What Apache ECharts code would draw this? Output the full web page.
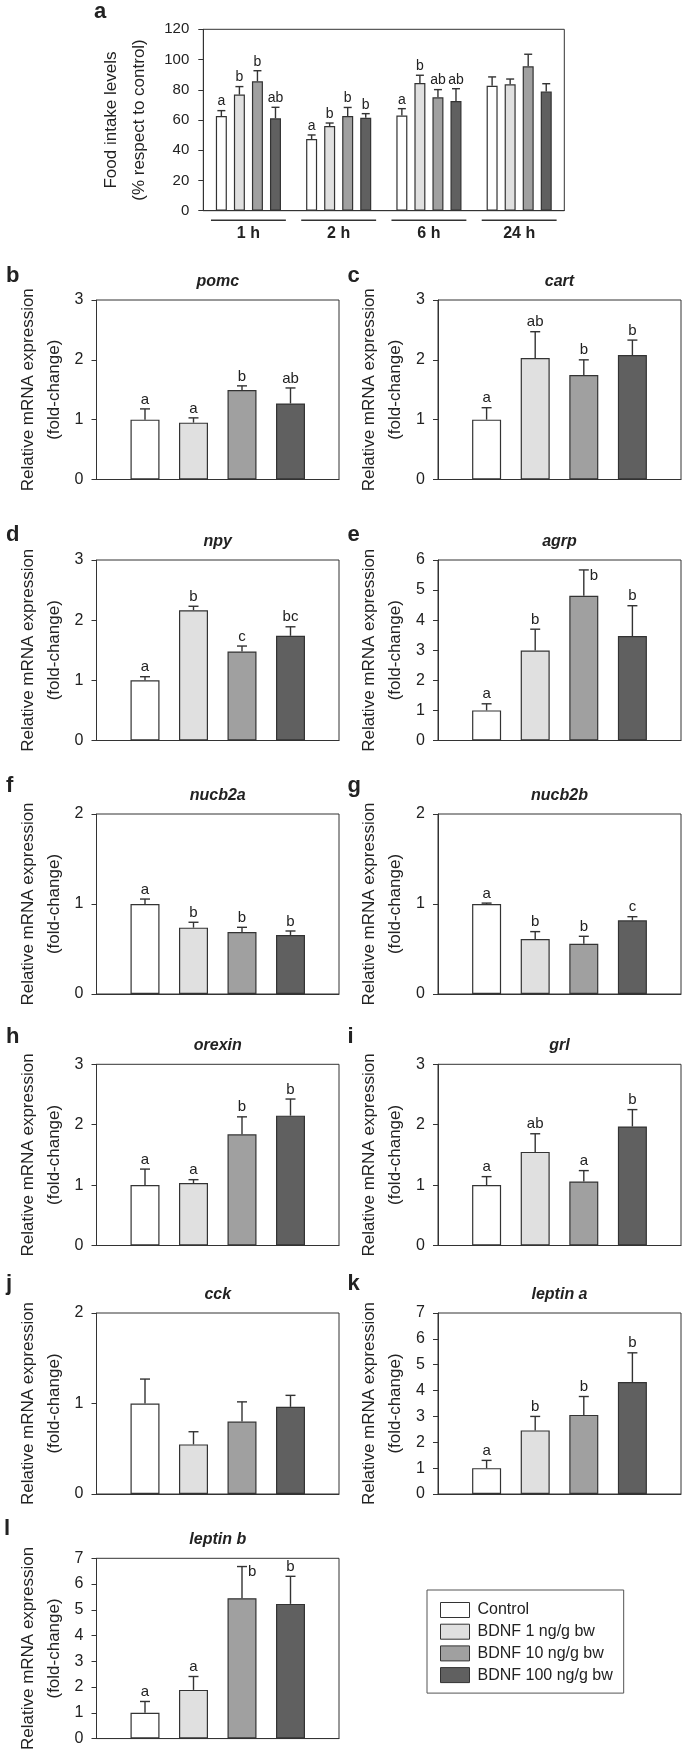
<!DOCTYPE html>
<html><head><meta charset="utf-8">
<script src="https://cdn.jsdelivr.net/npm/echarts@6/dist/echarts.min.js"></script>
<style>html,body{margin:0;padding:0;background:#fff}#c{width:685px;height:1752px}</style>
</head><body><div id="c"></div>
<script>
const FONT = '"Liberation Sans", Arial, Helvetica, sans-serif';
const groups = ['Control', 'BDNF 1 ng/g bw', 'BDNF 10 ng/g bw', 'BDNF 100 ng/g bw'];
const groupColors = ['#ffffff', '#e0e0e0', '#a0a0a0', '#606060'];

// ---- panel a: food intake (% respect to control)
const timePoints = ['1 h', '2 h', '6 h', '24 h'];
const foodControl = [62.6, 47.4, 62.9, 82.7];
const foodControlErr = [3.6, 2.7, 4.6, 5.8];
const foodControlLetters = ['a', 'a', 'a', ''];
const foodBdnf1 = [76.8, 56.0, 84.5, 83.6];
const foodBdnf1Err = [5.3, 2.0, 5.1, 3.5];
const foodBdnf1Letters = ['b', 'b', 'b', ''];
const foodBdnf10 = [85.6, 62.6, 75.0, 95.5];
const foodBdnf10Err = [7.0, 5.7, 5.1, 8.0];
const foodBdnf10Letters = ['b', 'b', 'ab', ''];
const foodBdnf100 = [61.1, 61.5, 72.6, 78.8];
const foodBdnf100Err = [7.3, 2.7, 8.1, 5.2];
const foodBdnf100Letters = ['ab', 'b', 'ab', ''];
const foodTicks = [0, 20, 40, 60, 80, 100, 120];

// ---- gene panels: relative mRNA expression (fold-change), order = groups
const pomcMean = [1.0, 0.95, 1.495, 1.27];
const pomcErr = [0.18, 0.08, 0.07, 0.26];
const pomcLetters = ['a', 'a', 'b', 'ab'];
const cartMean = [1.0, 2.03, 1.745, 2.08];
const cartErr = [0.2, 0.44, 0.255, 0.25];
const cartLetters = ['a', 'ab', 'b', 'b'];
const npyMean = [1.0, 2.166, 1.48, 1.74];
const npyErr = [0.06, 0.065, 0.09, 0.15];
const npyLetters = ['a', 'b', 'c', 'bc'];
const agrpMean = [1.0, 2.99, 4.81, 3.47];
const agrpErr = [0.22, 0.71, 0.86, 1.01];
const agrpLetters = ['a', 'b', 'b', 'b'];
const nucb2aMean = [1.0, 0.737, 0.689, 0.656];
const nucb2aErr = [0.055, 0.06, 0.052, 0.044];
const nucb2aLetters = ['a', 'b', 'b', 'b'];
const nucb2bMean = [1.0, 0.611, 0.559, 0.819];
const nucb2bErr = [0.01, 0.082, 0.082, 0.04];
const nucb2bLetters = ['a', 'b', 'b', 'c'];
const orexinMean = [1.0, 1.033, 1.84, 2.15];
const orexinErr = [0.265, 0.057, 0.29, 0.275];
const orexinLetters = ['a', 'a', 'b', 'b'];
const grlMean = [1.0, 1.55, 1.06, 1.97];
const grlErr = [0.14, 0.3, 0.18, 0.28];
const grlLetters = ['a', 'ab', 'a', 'b'];
const cckMean = [1.0, 0.548, 0.80, 0.963];
const cckErr = [0.27, 0.14, 0.218, 0.127];
const cckLetters = ['', '', '', ''];
const leptinAMean = [1.0, 2.46, 3.06, 4.33];
const leptinAErr = [0.3, 0.54, 0.71, 1.13];
const leptinALetters = ['a', 'b', 'b', 'b'];
const leptinBMean = [1.0, 1.89, 5.45, 5.23];
const leptinBErr = [0.44, 0.52, 1.23, 1.07];
const leptinBLetters = ['a', 'a', 'b', 'b'];

// ---- layout (not data)
const panels = [
  {letter: 'b', title: 'pomc', mean: pomcMean, err: pomcErr, letters: pomcLetters, yMax: 3, col: 0, row: 0},
  {letter: 'c', title: 'cart', mean: cartMean, err: cartErr, letters: cartLetters, yMax: 3, col: 1, row: 0},
  {letter: 'd', title: 'npy', mean: npyMean, err: npyErr, letters: npyLetters, yMax: 3, col: 0, row: 1},
  {letter: 'e', title: 'agrp', mean: agrpMean, err: agrpErr, letters: agrpLetters, yMax: 6, col: 1, row: 1, side: 2},
  {letter: 'f', title: 'nucb2a', mean: nucb2aMean, err: nucb2aErr, letters: nucb2aLetters, yMax: 2, col: 0, row: 2},
  {letter: 'g', title: 'nucb2b', mean: nucb2bMean, err: nucb2bErr, letters: nucb2bLetters, yMax: 2, col: 1, row: 2},
  {letter: 'h', title: 'orexin', mean: orexinMean, err: orexinErr, letters: orexinLetters, yMax: 3, col: 0, row: 3},
  {letter: 'i', title: 'grl', mean: grlMean, err: grlErr, letters: grlLetters, yMax: 3, col: 1, row: 3},
  {letter: 'j', title: 'cck', mean: cckMean, err: cckErr, letters: cckLetters, yMax: 2, col: 0, row: 4},
  {letter: 'k', title: 'leptin a', mean: leptinAMean, err: leptinAErr, letters: leptinALetters, yMax: 7, col: 1, row: 4},
  {letter: 'l', title: 'leptin b', mean: leptinBMean, err: leptinBErr, letters: leptinBLetters, yMax: 7, col: 0, row: 5, side: 2}
];
const colLeft = [96.5, 438];
const colWidth = [242.5, 243];
const rowTop = [300, 560, 814, 1064.3, 1313, 1558.3];
const rowHeight = [179.5, 180.5, 180, 181.2, 181, 180.4];
const letterBaseline = [283.3, 542.7, 794, 1045, 1292, 1536.7];
const letterLeft = [6, 347.5];

const INK = '#222';
const LINE = '#333';

const option = {
  animation: false,
  backgroundColor: '#ffffff',
  textStyle: {fontFamily: FONT},
  grid: [], xAxis: [], yAxis: [], series: [], title: []
};

function yAxisCommon(gridIndex, max, interval, fontSize, margin, name, nameGap, nameSize, nameLH) {
  return {
    type: 'value', gridIndex, min: 0, max, interval,
    axisLine: {show: true, lineStyle: {color: LINE, width: 1}},
    axisTick: {show: true, inside: false, length: 5, lineStyle: {color: LINE}},
    axisLabel: {fontSize, color: INK, margin, fontFamily: FONT},
    splitLine: {show: false},
    name, nameLocation: 'middle', nameRotate: 90, nameGap,
    nameTextStyle: {fontSize: nameSize, lineHeight: nameLH, color: INK, fontFamily: FONT}
  };
}

// ---- panel a
option.grid.push({left: 203.3, top: 29.3, width: 361, height: 181.4, show: true, borderColor: LINE, borderWidth: 1, containLabel: false});
option.xAxis.push({
  type: 'category', gridIndex: 0, data: timePoints,
  axisLine: {show: true, lineStyle: {color: LINE}}, axisTick: {show: false},
  axisLabel: {fontSize: 16, fontWeight: 'bold', color: INK, margin: 15, fontFamily: FONT}
});
option.yAxis.push(yAxisCommon(0, foodTicks[foodTicks.length - 1], foodTicks[1] - foodTicks[0], 15, 14,
  'Food intake levels\n(% respect to control)', 48, 17, 28));

const foodSeries = [
  [foodControl, foodControlErr, foodControlLetters],
  [foodBdnf1, foodBdnf1Err, foodBdnf1Letters],
  [foodBdnf10, foodBdnf10Err, foodBdnf10Letters],
  [foodBdnf100, foodBdnf100Err, foodBdnf100Letters]
];
const A_BAR_W = 11, A_GAP = 0.64;
foodSeries.forEach(([mean], k) => {
  option.series.push({
    name: groups[k], type: 'bar', xAxisIndex: 0, yAxisIndex: 0,
    data: mean, barWidth: A_BAR_W, barGap: (A_GAP * 100) + '%',
    itemStyle: {color: groupColors[k], borderColor: LINE, borderWidth: 1.2}
  });
});
function errRender(offset, capW, letters, fontSize, side) {
  return function (params, api) {
    const i = api.value(0), m = api.value(1), e = api.value(2);
    const base = api.coord([i, m]);
    const top = api.coord([i, m + e]);
    const x = base[0] + offset;
    const children = [
      {type: 'line', shape: {x1: x, y1: base[1], x2: x, y2: top[1]}, style: {stroke: LINE, lineWidth: 1.4}},
      {type: 'line', shape: {x1: x - capW / 2, y1: top[1], x2: x + capW / 2, y2: top[1]}, style: {stroke: LINE, lineWidth: 1.4}}
    ];
    const t = letters[params.dataIndex];
    if (t) {
      const isSide = side === params.dataIndex;
      children.push({
        type: 'text',
        style: {
          text: t, x: isSide ? x + 6 : x, y: top[1] - 2,
          align: isSide ? 'left' : 'center', textAlign: isSide ? 'left' : 'center',
          verticalAlign: isSide ? 'top' : 'bottom', textVerticalAlign: isSide ? 'top' : 'bottom',
          fontSize, fontFamily: FONT, fill: INK
        }
      });
    }
    return {type: 'group', children};
  };
}
foodSeries.forEach(([mean, err, letters], k) => {
  const offset = (k - 1.5) * A_BAR_W * (1 + A_GAP);
  option.series.push({
    type: 'custom', xAxisIndex: 0, yAxisIndex: 0, clip: false, z: 5,
    data: mean.map((v, i) => [i, v, err[i]]),
    renderItem: errRender(offset, 8, letters, 14, -1)
  });
});
// group underlines under the time labels
option.series.push({
  type: 'custom', xAxisIndex: 0, yAxisIndex: 0, clip: false, silent: true,
  data: timePoints.map((_, i) => [i, 0]),
  renderItem: function (params, api) {
    const p = api.coord([api.value(0), 0]);
    const bw = api.size([1, 0])[0];
    return {type: 'line', shape: {x1: p[0] - bw * 0.415, y1: p[1] + 9.5, x2: p[0] + bw * 0.415, y2: p[1] + 9.5},
      style: {stroke: LINE, lineWidth: 1.5}};
  }
});
option.title.push({text: 'a', left: 94, top: 20 - 18.7, padding: 0,
  textStyle: {fontSize: 22, fontWeight: 'bold', color: INK, fontFamily: FONT, lineHeight: 22}});

// ---- gene panels
const catData = [''].concat(groups).concat([' ']);
panels.forEach((p, idx) => {
  const g = idx + 1;
  const left = colLeft[p.col], width = colWidth[p.col];
  const top = rowTop[p.row], height = rowHeight[p.row];
  option.grid.push({left, top, width, height, show: true, borderColor: LINE, borderWidth: 1, containLabel: false});
  option.xAxis.push({
    type: 'category', gridIndex: g, data: catData, boundaryGap: false,
    axisLine: {show: true, lineStyle: {color: LINE}}, axisTick: {show: false}, axisLabel: {show: false}
  });
  option.yAxis.push(yAxisCommon(g, p.yMax, 1, 16, 13, 'Relative mRNA expression\n(fold-change)', 29.5, 17, 26));
  option.series.push({
    name: p.title, type: 'bar', xAxisIndex: g, yAxisIndex: g, barWidth: 29,
    data: ['-'].concat(p.mean.map((v, k) => ({value: v, itemStyle: {color: groupColors[k]}}))).concat(['-']),
    itemStyle: {borderColor: LINE, borderWidth: 1.2}
  });
  option.series.push({
    type: 'custom', xAxisIndex: g, yAxisIndex: g, clip: false, z: 5,
    data: p.mean.map((v, k) => [k + 1, v, p.err[k]]),
    renderItem: errRender(0, 10, p.letters, 15, p.side === undefined ? -1 : p.side)
  });
  option.title.push({text: p.title, left: left + width / 2, top: top - 12.7 - 13.6, textAlign: 'center', padding: 0,
    textStyle: {fontSize: 16, fontWeight: 'bold', fontStyle: 'italic', color: INK, fontFamily: FONT, lineHeight: 16}});
  option.title.push({text: p.letter, left: p.letter === 'l' ? 4 : letterLeft[p.col], top: letterBaseline[p.row] - 18.7, padding: 0,
    textStyle: {fontSize: 22, fontWeight: 'bold', color: INK, fontFamily: FONT, lineHeight: 22}});
});

option.legend = {
  data: groups, orient: 'vertical', left: 427, top: 1590,
  padding: [12, 11, 10, 13], itemWidth: 29, itemHeight: 15, itemGap: 5.7,
  borderColor: '#555', borderWidth: 1, backgroundColor: '#fff',
  icon: 'rect', selectedMode: false,
  itemStyle: {borderColor: LINE, borderWidth: 1},
  textStyle: {fontSize: 16, color: INK, fontFamily: FONT, lineHeight: 16, padding: [0, 0, 0, 3]}
};

const chart = echarts.init(document.getElementById('c'), null, {renderer: 'canvas', width: 685, height: 1752});
chart.setOption(option);
</script></body></html>
